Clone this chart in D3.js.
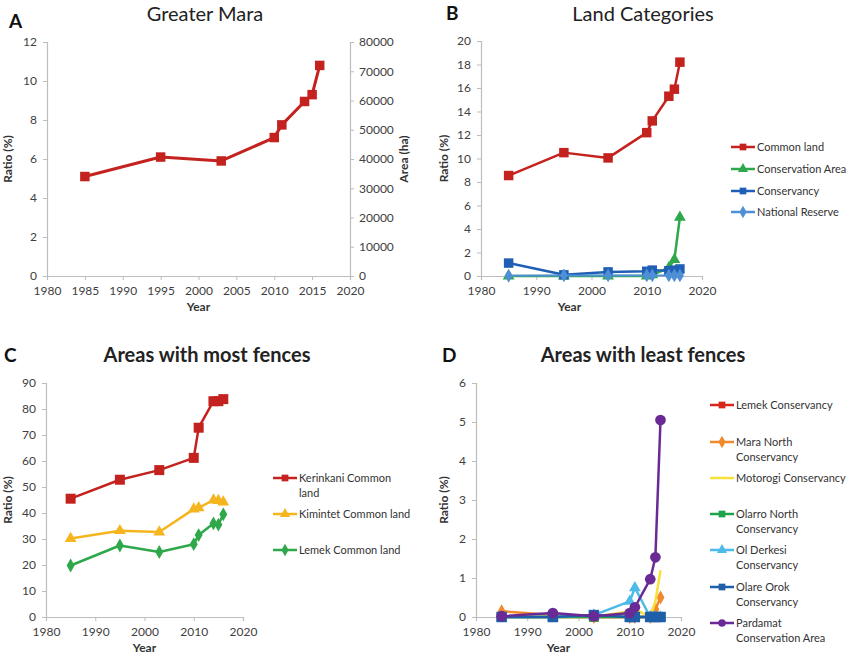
<!DOCTYPE html>
<html>
<head>
<meta charset="utf-8">
<script src="https://cdn.jsdelivr.net/npm/d3@7"></script>
<style>
  body { margin: 0; background: #fff; }
  text { font-family: Lato, "Open Sans", "Liberation Sans", sans-serif; }
</style>
</head>
<body>
<div id="chart"></div>
<script>
// Survey years shared by every series
const years = [1985, 1995, 2003, 2010, 2011, 2014, 2015, 2016];

// A - Greater Mara
const greaterMara = [5.1, 6.1, 5.9, 7.1, 7.75, 8.95, 9.3, 10.8];

// B - Land categories
const commonLand = [8.55, 10.5, 10.05, 12.2, 13.2, 15.3, 15.9, 18.2];
const conservationArea = [0, 0, 0, 0, 0.1, 0.7, 1.4, 5.0];
const conservancy = [1.1, 0.1, 0.35, 0.4, 0.5, 0.45, 0.5, 0.6];
const nationalReserve = [0.02, 0.05, 0.05, 0.05, 0.05, 0.05, 0.05, 0.05];

// C - Areas with most fences
const kerinkani = [45.5, 52.8, 56.5, 61.2, 72.8, 83, 83, 83.8];
const kimintet = [30.2, 33.2, 32.7, 41.5, 42, 45, 44.8, 44.2];
const lemekCommon = [19.8, 27.5, 25, 28, 31.5, 36, 35.5, 39.5];

// D - Areas with least fences
const lemekConservancy = [0, 0, 0, 0, 0, 0, 0, 0];
const maraNorth = [0.15, 0.05, 0, 0, 0, 0, 0.2, 0.5];
const motorogi = [0, 0, 0, 0.15, 0.2, 0, 0.4, 1.2];
const olarroNorth = [0, 0, 0, 0, 0, 0, 0, 0];
const olDerkesi = [0, 0, 0.05, 0.4, 0.75, 0, 0, 0];
const olareOrok = [0, 0, 0.05, 0, 0, 0, 0, 0];
const pardamat = [0.02, 0.1, 0.02, 0.1, 0.25, 0.97, 1.53, 5.05];

const xTicks = [1980, 1985, 1990, 1995, 2000, 2005, 2010, 2015, 2020];
const xTicksWide = [1980, 1990, 2000, 2010, 2020];

const width = 852, height = 659;
const svg = d3.select("#chart").append("svg")
    .attr("width", width)
    .attr("height", height);

const axisColor = "#bdbdbd", labelColor = "#404040";

function shapeFor(name) {
    return { square: d3.symbolSquare, triangle: d3.symbolTriangle,
             diamond: d3.symbolDiamond, circle: d3.symbolCircle }[name];
}

function styleAxis(a) {
    a.select(".domain").attr("stroke", axisColor).attr("stroke-width", 1.2);
    a.selectAll(".tick line").attr("stroke", axisColor);
    a.selectAll(".tick text").attr("fill", labelColor).style("font-size", "12px");
}

// draw one panel: box in pixels, y domain, series
function drawPanel(p) {
    const g = svg.append("g");
    const x = d3.scaleLinear().domain([1980, 2020]).range([p.left, p.right]);
    const y = d3.scaleLinear().domain(p.yDomain).range([p.bottom, p.top]);

    g.append("g")
        .attr("transform", `translate(0,${p.bottom})`)
        .call(d3.axisBottom(x).tickValues(p.xTicks).tickFormat(d3.format("d")).tickSize(4).tickPadding(6))
        .call(styleAxis);
    g.append("g")
        .attr("transform", `translate(${p.left},0)`)
        .call(d3.axisLeft(y).tickValues(p.yTicks).tickFormat(d3.format("d")).tickSize(4).tickPadding(6))
        .call(styleAxis);

    if (p.right2) {
        const y2 = d3.scaleLinear().domain(p.right2.domain).range([p.bottom, p.top]);
        g.append("g")
            .attr("transform", `translate(${p.right},0)`)
            .call(d3.axisRight(y2).tickValues(p.right2.ticks).tickFormat(d3.format("d")).tickSize(4).tickPadding(5))
            .call(styleAxis);
        g.append("text")
            .attr("transform", `translate(${p.right + 58},${(p.top + p.bottom) / 2}) rotate(-90)`)
            .attr("text-anchor", "middle")
            .attr("fill", "#333")
            .style("font-size", "12px").style("font-weight", "bold")
            .text("Area (ha)");
    }

    // axis titles
    g.append("text")
        .attr("x", (p.left + p.right) / 2 + (p.yearShift || 0))
        .attr("y", p.bottom + 35)
        .attr("text-anchor", "middle")
        .attr("fill", "#333")
        .style("font-size", "12px").style("font-weight", "bold")
        .text("Year");
    g.append("text")
        .attr("transform", `translate(${p.ratioX},${(p.top + p.bottom) / 2}) rotate(-90)`)
        .attr("text-anchor", "middle")
        .attr("fill", "#333")
        .style("font-size", "12px").style("font-weight", "bold")
        .text("Ratio (%)");

    // panel title and letter
    g.append("text")
        .attr("x", p.titleX).attr("y", p.titleY)
        .attr("text-anchor", "middle")
        .attr("fill", "#222")
        .style("font-size", "20px")
        .style("font-weight", p.boldTitle ? "bold" : "normal")
        .text(p.title);
    g.append("text")
        .attr("x", p.letterX).attr("y", p.letterY)
        .attr("fill", "#111")
        .style("font-size", "19px").style("font-weight", "bold")
        .text(p.letter);

    const line = d3.line().x((d, i) => x(years[i])).y(d => y(d));

    p.series.forEach(s => {
        g.append("path")
            .datum(s.values)
            .attr("d", line)
            .attr("fill", "none")
            .attr("stroke", s.color)
            .attr("stroke-width", s.width || 2.5)
            .attr("stroke-linejoin", "round");
        if (s.marker) {
            g.selectAll(null)
                .data(s.values)
                .enter().append("path")
                .attr("transform", (d, i) => `translate(${x(years[i])},${y(d)})`)
                .attr("d", d3.symbol().type(shapeFor(s.marker)).size(s.size || 80))
                .attr("fill", s.color);
        }
    });

    // legend
    if (p.legend) {
        p.series.forEach((s, i) => {
            const ly = p.legend.ys[i];
            const lx = p.legend.x;
            g.append("line")
                .attr("x1", lx).attr("x2", lx + 24)
                .attr("y1", ly).attr("y2", ly)
                .attr("stroke", s.color).attr("stroke-width", 2.5);
            if (s.marker) {
                g.append("path")
                    .attr("transform", `translate(${lx + 12},${ly})`)
                    .attr("d", d3.symbol().type(shapeFor(s.marker)).size(45))
                    .attr("fill", s.color);
            }
            const t = g.append("text")
                .attr("x", lx + 26).attr("y", ly + 4)
                .attr("fill", "#333")
                .style("font-size", "11px");
            s.label.forEach((part, k) => {
                t.append("tspan").attr("x", lx + 26).attr("dy", k === 0 ? 0 : 15).text(part);
            });
        });
    }
}

drawPanel({
    letter: "A", letterX: 9, letterY: 28, title: "Greater Mara", titleX: 205, titleY: 21,
    left: 47, right: 350, top: 42, bottom: 276,
    yDomain: [0, 12], yTicks: d3.range(0, 13, 2), xTicks: xTicks, ratioX: 12,
    right2: { domain: [0, 80000], ticks: d3.range(0, 80001, 10000) },
    series: [{ values: greaterMara, color: "#c4221f", marker: "square", size: 90, width: 3 }]
});

drawPanel({
    letter: "B", letterX: 446, letterY: 20, title: "Land Categories", titleX: 643, titleY: 21,
    left: 481, right: 702, top: 41, bottom: 276,
    yDomain: [0, 20], yTicks: d3.range(0, 21, 2), xTicks: xTicksWide, ratioX: 448, yearShift: -22,
    series: [
        { values: commonLand, color: "#c4221f", marker: "square", size: 90, label: ["Common land"] },
        { values: conservationArea, color: "#2ea84a", marker: "triangle", size: 60, label: ["Conservation Area"] },
        { values: conservancy, color: "#1f5fb5", marker: "square", size: 90, label: ["Conservancy"] },
        { values: nationalReserve, color: "#4f8fd6", marker: "diamond", size: 55, width: 2, label: ["National Reserve"] }
    ],
    legend: { x: 731, ys: [147, 169, 191, 212] }
});

drawPanel({
    letter: "C", letterX: 4, letterY: 362, title: "Areas with most fences", titleX: 207, titleY: 362,
    left: 46, right: 243, top: 383, bottom: 617, boldTitle: true,
    yDomain: [0, 90], yTicks: d3.range(0, 91, 10), xTicks: xTicksWide, ratioX: 12,
    series: [
        { values: kerinkani, color: "#c4221f", marker: "square", size: 100, label: ["Kerinkani Common", "land"] },
        { values: kimintet, color: "#f5b51e", marker: "triangle", size: 60, label: ["Kimintet Common land"] },
        { values: lemekCommon, color: "#2ea84a", marker: "diamond", size: 55, label: ["Lemek Common land"] }
    ],
    legend: { x: 273, ys: [478, 514, 550] }
});

drawPanel({
    letter: "D", letterX: 442, letterY: 362, title: "Areas with least fences", titleX: 643, titleY: 362,
    left: 476, right: 681, top: 383, bottom: 617, boldTitle: true,
    yDomain: [0, 6], yTicks: d3.range(0, 7, 1), xTicks: xTicksWide, ratioX: 448, yearShift: -20,
    series: [
        { values: lemekConservancy, color: "#d9261c", marker: "square", size: 90, label: ["Lemek Conservancy"] },
        { values: maraNorth, color: "#f08a2c", marker: "diamond", size: 55, label: ["Mara North", "Conservancy"] },
        { values: motorogi, color: "#f8e03a", label: ["Motorogi Conservancy"] },
        { values: olarroNorth, color: "#1fa34a", marker: "square", size: 90, label: ["Olarro North", "Conservancy"] },
        { values: olDerkesi, color: "#4cbbe8", marker: "triangle", size: 60, label: ["Ol Derkesi", "Conservancy"] },
        { values: olareOrok, color: "#1f5faa", marker: "square", size: 110, label: ["Olare Orok", "Conservancy"] },
        { values: pardamat, color: "#6a2a96", marker: "circle", size: 90, label: ["Pardamat", "Conservation Area"] }
    ],
    legend: { x: 710, ys: [405, 442, 478, 514, 550, 587, 623] }
});
</script>
</body>
</html>
